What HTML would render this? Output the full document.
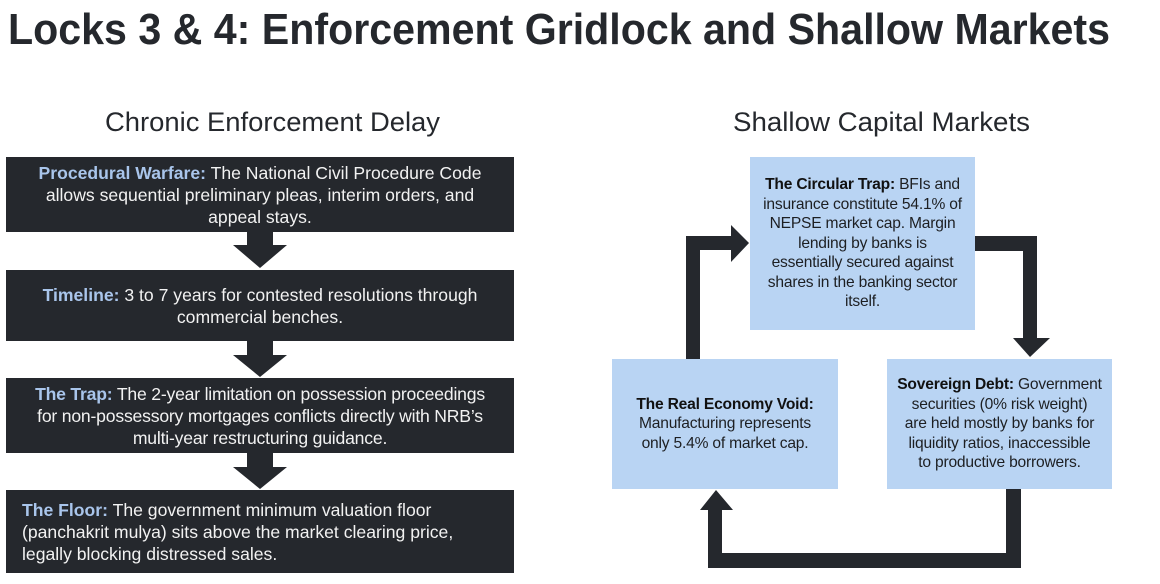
<!DOCTYPE html>
<html><head><meta charset="utf-8"><style>
body{margin:0;width:1160px;height:584px;background:#fff;position:relative;overflow:hidden;font-family:"Liberation Sans",Arial,sans-serif}
.b{position:absolute;display:flex;align-items:center;justify-content:center;text-align:center;box-sizing:border-box;white-space:nowrap}
.d{background:#25282d;color:#f2f2f2;font-size:17.6px;line-height:22px;padding:0 2px;left:6px;width:508px}
.d b{color:#a9c5eb}
.l{background:#b9d4f3;color:#1d1f22;font-size:15.6px;line-height:19.5px;padding:0 2px;letter-spacing:-0.2px}
.l b{color:#111}
svg{position:absolute;left:0;top:0}
</style></head><body>
<svg width="1160" height="584">
<text x="8" y="44" font-size="44" font-weight="bold" fill="#25282d" textLength="1102" lengthAdjust="spacingAndGlyphs" font-family="Liberation Sans, sans-serif">Locks 3 &amp; 4: Enforcement Gridlock and Shallow Markets</text>
<text x="105" y="131" font-size="27" fill="#25282d" textLength="335" lengthAdjust="spacingAndGlyphs" font-family="Liberation Sans, sans-serif">Chronic Enforcement Delay</text>
<text x="733" y="131" font-size="27" fill="#25282d" textLength="297" lengthAdjust="spacingAndGlyphs" font-family="Liberation Sans, sans-serif">Shallow Capital Markets</text>
<g fill="#25282d">
<polygon points="247,232 273,232 273,245 287,245 260,268 233,245 247,245"/>
<polygon points="247,341 273,341 273,355 287,355 260,377 233,355 247,355"/>
<polygon points="247,453 273,453 273,467 287,467 260,489 233,467 247,467"/>
<polygon points="686,359 700,359 700,250 731,250 731,262 749,243 731,225 731,236 686,236"/>
<polygon points="975,236 1037,236 1037,338 1050,338 1030,357 1013,338 1023,338 1023,251 975,251"/>
<polygon points="1006,489 1021,489 1021,568 708,568 708,510 700,510 716,490 733,510 722,510 722,553 1006,553"/>
</g>
</svg>
<div class="b d" style="top:157px;height:75px"><div><b>Procedural Warfare:</b> The National Civil Procedure Code<br>allows sequential preliminary pleas, interim orders, and<br>appeal stays.</div></div>
<div class="b d" style="top:270px;height:71px"><div><b>Timeline:</b> 3 to 7 years for contested resolutions through<br>commercial benches.</div></div>
<div class="b d" style="top:378px;height:75px;letter-spacing:-0.2px"><div><b>The Trap:</b> The 2-year limitation on possession proceedings<br>for non-possessory mortgages conflicts directly with NRB’s<br>multi-year restructuring guidance.</div></div>
<div class="b d" style="top:490px;height:83px;justify-content:flex-start;text-align:left;padding-left:16px"><div><b>The Floor:</b> The government minimum valuation floor<br>(panchakrit mulya) sits above the market clearing price,<br>legally blocking distressed sales.</div></div>
<div class="b l" style="left:750px;top:157px;width:225px;height:173px"><div><b>The Circular Trap:</b> BFIs and<br>insurance constitute 54.1% of<br>NEPSE market cap. Margin<br>lending by banks is<br>essentially secured against<br>shares in the banking sector<br>itself.</div></div>
<div class="b l" style="left:612px;top:359px;width:226px;height:130px"><div><b>The Real Economy Void:</b><br>Manufacturing represents<br>only 5.4% of market cap.</div></div>
<div class="b l" style="left:887px;top:359px;width:225px;height:130px"><div><b>Sovereign Debt:</b> Government<br>securities (0% risk weight)<br>are held mostly by banks for<br>liquidity ratios, inaccessible<br>to productive borrowers.</div></div>
</body></html>
